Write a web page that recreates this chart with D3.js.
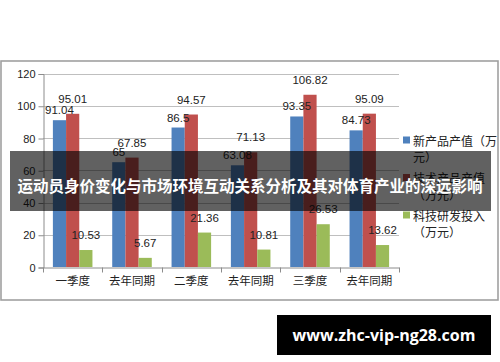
<!DOCTYPE html>
<html>
<head>
<meta charset="utf-8">
<script src="https://cdn.jsdelivr.net/npm/d3@7"></script>
<style>
  html, body { margin: 0; padding: 0; background: #fff; }
  svg { display: block; }
</style>
</head>
<body>
<svg id="chart" width="500" height="362"></svg>
<script>
// ---- data ----
const categories = ["一季度", "去年同期", "二季度", "去年同期", "三季度", "去年同期"];
const seriesNames = ["新产品产值（万元）", "技术产品产值（万元）", "科技研发投入（万元）"];
const newProductValue = [91.04, 65, 86.5, 63.08, 93.35, 84.73];
const techProductValue = [95.01, 67.85, 94.57, 71.13, 106.82, 95.09];
const rdInvestment = [10.53, 5.67, 21.36, 10.81, 26.53, 13.62];
const yTicks = [0, 20, 40, 60, 80, 100, 120];
const bannerText = "运动员身价变化与市场环境互动关系分析及其对体育产业的深远影响";
const watermarkText = "www.zhc-vip-ng28.com";

const seriesValues = [newProductValue, techProductValue, rdInvestment];
const colors = ["#4f81bd", "#c0504d", "#9bbb59"];
const labelLift = [6, 11, 11];

const svg = d3.select("#chart");
const FONT = "'Liberation Sans', 'Noto Sans CJK SC', sans-serif";
const CJK = "'Noto Sans CJK SC', sans-serif";

// outer frame
svg.append("rect")
  .attr("x", 1).attr("y", 61).attr("width", 497).attr("height", 239)
  .attr("fill", "#fff").attr("stroke", "#a0a0a0").attr("stroke-width", 1.6);

const x0 = 43, x1 = 399, yTop = 73.5, yBot = 267;
const x = d3.scaleBand().domain(d3.range(categories.length)).range([x0, x1]).padding(0);
const xs = d3.scaleBand().domain(d3.range(seriesNames.length)).range([0, x.bandwidth()])
  .paddingInner(0).paddingOuter(0.75);
const y = d3.scaleLinear().domain([0, 120]).range([yBot, yTop]);

// gridlines
svg.append("g").selectAll("line").data(yTicks.filter(t => t > 0)).join("line")
  .attr("x1", x0).attr("x2", x1)
  .attr("y1", d => Math.round(y(d)) + 0.5).attr("y2", d => Math.round(y(d)) + 0.5)
  .attr("stroke", "#bfbfbf").attr("stroke-width", 1);

// y axis
const yAxis = d3.axisLeft(y).tickValues(yTicks).tickSize(5).tickPadding(3);
const gy = svg.append("g").attr("transform", `translate(${x0 + 0.5},0.5)`).call(yAxis);
gy.select(".domain").attr("stroke", "#8c8c8c");
gy.selectAll(".tick line").attr("stroke", "#8c8c8c");
gy.selectAll(".tick text").attr("font-family", FONT).attr("font-size", 11).attr("fill", "#222");

// x axis
const xAxis = d3.axisBottom(x).tickSize(0).tickFormat(i => categories[i]).tickPadding(9);
const gx = svg.append("g").attr("transform", `translate(0,${yBot + 0.5})`).call(xAxis);
gx.select(".domain").attr("stroke", "#8c8c8c");
gx.selectAll(".tick text").attr("font-family", CJK).attr("font-size", 11.5).attr("fill", "#222");
gx.append("g").selectAll("line").data(d3.range(categories.length + 1)).join("line")
  .attr("x1", i => Math.round(x0 + i * x.step()) + 0.5)
  .attr("x2", i => Math.round(x0 + i * x.step()) + 0.5)
  .attr("y1", 0).attr("y2", 5).attr("stroke", "#8c8c8c");

// bars
const flat = [];
seriesValues.forEach((vals, s) => vals.forEach((v, i) => flat.push({ s, i, v })));
svg.append("g").selectAll("rect").data(flat).join("rect")
  .attr("x", d => x(d.i) + xs(d.s))
  .attr("y", d => y(d.v))
  .attr("width", xs.bandwidth())
  .attr("height", d => yBot - y(d.v))
  .attr("fill", d => colors[d.s]);

// value labels
svg.append("g").selectAll("text").data(flat).join("text")
  .attr("x", d => x(d.i) + xs(d.s) + xs.bandwidth() / 2)
  .attr("y", d => y(d.v) - labelLift[d.s])
  .attr("text-anchor", "middle")
  .attr("font-family", FONT).attr("font-size", 11.5).attr("fill", "#222")
  .text(d => d.v);

// legend
const legendStartY = [140, 177.5, 215];
const lineH = 16.5;
const maxW = 86;
const lg = svg.append("g");
seriesNames.forEach((name, s) => {
  lg.append("rect").attr("x", 403).attr("y", legendStartY[s] - 3.5)
    .attr("width", 7).attr("height", 7).attr("fill", colors[s]);
  const t = lg.append("text").attr("font-family", CJK).attr("font-size", 12).attr("fill", "#222");
  // wrap by measured width, never ending a line with an opening bracket
  const chars = Array.from(name);
  const lines = [];
  let cur = "";
  const probe = lg.append("text").attr("font-family", CJK).attr("font-size", 12).attr("visibility", "hidden");
  chars.forEach(c => {
    const test = cur + c;
    probe.text(test);
    if (probe.node().getComputedTextLength() > maxW && cur.length) {
      if (cur.endsWith("（")) { lines.push(cur.slice(0, -1)); cur = "（" + c; }
      else { lines.push(cur); cur = c; }
    } else cur = test;
  });
  if (cur) lines.push(cur);
  // avoid line ending with "（"
  for (let k = 0; k < lines.length - 1; k++) {
    if (lines[k].endsWith("（")) { lines[k] = lines[k].slice(0, -1); lines[k + 1] = "（" + lines[k + 1]; }
  }
  probe.remove();
  lines.forEach((ln, k) => {
    t.append("tspan").attr("x", 413).attr("y", legendStartY[s] + k * lineH)
      .attr("dominant-baseline", "central").text(ln);
  });
});

// banner overlay
svg.append("rect").attr("x", 10).attr("y", 151).attr("width", 481).attr("height", 60)
  .attr("fill", "rgba(0,0,0,0.62)");
svg.append("text").attr("x", 250).attr("y", 185)
  .attr("text-anchor", "middle").attr("dominant-baseline", "central")
  .attr("font-family", CJK).attr("font-weight", "bold").attr("font-size", 15.5)
  .attr("fill", "#fff").text(bannerText);

// watermark
svg.append("rect").attr("x", 277).attr("y", 315).attr("width", 214).attr("height", 40).attr("fill", "#000");
svg.append("text").attr("x", 384).attr("y", 335)
  .attr("text-anchor", "middle").attr("dominant-baseline", "central")
  .attr("font-family", "'Open Sans', sans-serif").attr("font-weight", "bold").attr("font-size", 16)
  .attr("fill", "#fff").text(watermarkText);
</script>
</body>
</html>
